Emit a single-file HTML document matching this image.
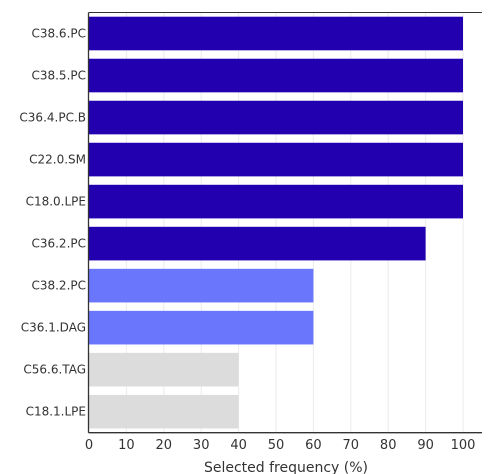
<!DOCTYPE html>
<html><head><meta charset="utf-8"><style>
body{margin:0;background:#fff;}
svg{display:block;font-family:"DejaVu Sans","Liberation Sans",sans-serif;}
</style></head><body>
<svg id="chart" width="490" height="474" xmlns="http://www.w3.org/2000/svg">
<g id="grid"></g>
<g id="bars"></g>
<g id="axes"></g>
<text x="286" y="472" text-anchor="middle" font-size="14" fill="#333">Selected frequency (%)</text>
</svg>
<script>
const categories = ["C38.6.PC","C38.5.PC","C36.4.PC.B","C22.0.SM","C18.0.LPE","C36.2.PC","C38.2.PC","C36.1.DAG","C56.6.TAG","C18.1.LPE"];
const values = [100,100,100,100,100,90,60,60,40,40];
const groups = [0,0,0,0,0,0,1,1,2,2];
const groupColors = ["#2200b0","#6a77fd","#dcdcdc"];
const xTicks = [0,10,20,30,40,50,60,70,80,90,100];

const NS="http://www.w3.org/2000/svg";
const x0=89, x1=463, plotTop=12.5, plotBottom=432.7, axisRight=482;
const xs=v=>x0+(v/100)*(x1-x0);
const band=(plotBottom-plotTop)/categories.length;
const yb=i=>plotTop+i*band;
function mk(tag,attrs,parent){const e=document.createElementNS(NS,tag);for(const k in attrs)e.setAttribute(k,attrs[k]);parent.appendChild(e);return e;}
const grid=document.getElementById('grid'),bars=document.getElementById('bars'),axes=document.getElementById('axes');
xTicks.forEach(t=>{
  if(t>0){const g=mk('line',{x1:xs(t),x2:xs(t),y1:plotTop,y2:plotBottom,stroke:'#ebebeb','stroke-width':1},grid);
  
  }
  const tl=mk('text',{x:xs(t),y:449,'text-anchor':'middle','font-size':13,fill:'#333'},axes);
  tl.textContent=t;
  
  
});
categories.forEach((c,i)=>{
  const r=mk('rect',{x:x0,y:yb(i)+band*0.1,width:xs(values[i])-x0,height:band*0.8,fill:groupColors[groups[i]]},bars);
  
  
  const l=mk('text',{x:86,y:yb(i)+band/2+4,'text-anchor':'end','font-size':12,fill:'#333'},axes);
  l.textContent=c;
  
  
});
const xa=mk('line',{x1:x0-0.5,x2:axisRight,y1:plotBottom,y2:plotBottom,stroke:'#333','stroke-width':1.3},axes);


const ya=mk('line',{x1:x0-0.5,x2:x0-0.5,y1:plotTop,y2:plotBottom,stroke:'#333','stroke-width':1.3},axes);


const tb=mk('line',{x1:x0-0.5,x2:axisRight,y1:plotTop,y2:plotTop,stroke:'#333','stroke-width':1},axes);


</script>
</body></html>
